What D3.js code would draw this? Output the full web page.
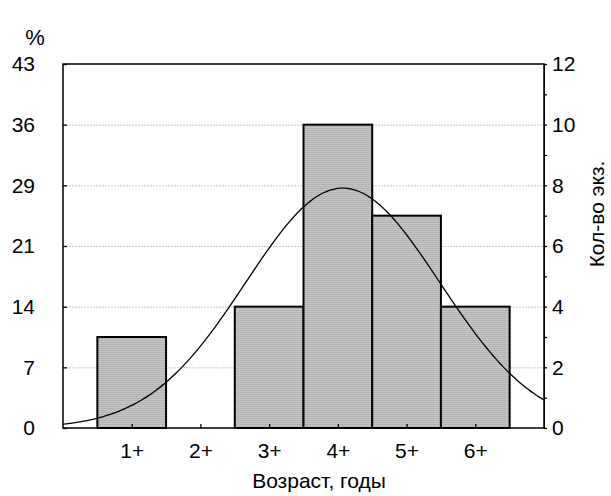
<!DOCTYPE html>
<html><head><meta charset="utf-8">
<script src="https://cdn.jsdelivr.net/npm/d3@7"></script>
<style>body{margin:0;background:#fff}svg{display:block}text{font-family:"Liberation Sans",Arial,sans-serif}</style>
</head><body><svg id="c" width="611" height="496"></svg>
<script>
const categories = ["1+","2+","3+","4+","5+","6+"];
const ages = [1,2,3,4,5,6];
const counts = [3,0,4,10,7,4];
const countTicks = [0,2,4,6,8,10,12];
const percentLabels = ["0","7","14","21","29","36","43"];
const xTitle = "Возраст, годы";
const yRightTitle = "Кол-во экз.";
const yLeftTitle = "%";

const svg = d3.select("#c");
const m = {l:63, r:544, t:64, b:428};
const x = d3.scaleLinear().domain([0,7]).range([m.l, m.r]);
const y = d3.scaleLinear().domain([0,12]).range([m.b, m.t]);
const FS = 21;

const defs = svg.append("defs");
const pat = defs.append("pattern").attr("id","hatch").attr("patternUnits","userSpaceOnUse").attr("width",4).attr("height",2);
pat.append("rect").attr("width",4).attr("height",2).attr("fill","#c4c4c4");
pat.append("rect").attr("width",4).attr("height",1).attr("fill","#b4b4b4");

// grid
svg.append("g").selectAll("line").data(countTicks.filter(d=>d>0&&d<12)).join("line")
  .attr("x1",m.l).attr("x2",m.r).attr("y1",d=>y(d)+0.5).attr("y2",d=>y(d)+0.5)
  .attr("stroke","#c8c8c8").attr("stroke-dasharray","2,1").attr("stroke-width",1);

// bars
svg.append("g").selectAll("rect").data(ages.map((a,i)=>({a, c:counts[i]})).filter(d=>d.c>0)).join("rect")
  .attr("x",d=>x(d.a-0.5)).attr("width",d=>x(d.a+0.5)-x(d.a-0.5))
  .attr("y",d=>y(d.c)).attr("height",d=>y(0)-y(d.c))
  .attr("fill","url(#hatch)").attr("stroke","#000").attr("stroke-width",2);

// normal curve fitted from data
const N = d3.sum(counts);
const mean = d3.sum(ages.map((a,i)=>a*counts[i]))/N;
const sd = Math.sqrt(d3.sum(ages.map((a,i)=>counts[i]*(a-mean)**2))/(N-1));
const xs = d3.range(0,7.001,0.05);
const line = d3.line().x(d=>x(d)).y(d=>y(N/(sd*Math.sqrt(2*Math.PI))*Math.exp(-((d-mean)**2)/(2*sd*sd)))).curve(d3.curveBasis);
svg.append("path").datum(xs).attr("d",line).attr("fill","none").attr("stroke","#000").attr("stroke-width",1.3);

// frame
svg.append("rect").attr("x",m.l).attr("y",m.t).attr("width",m.r-m.l).attr("height",m.b-m.t)
  .attr("fill","none").attr("stroke","#000").attr("stroke-width",1.5);

// axes
const yL = svg.append("g").attr("transform",`translate(${m.l},0)`)
  .call(d3.axisLeft(y).tickValues(countTicks).tickSize(-4).tickPadding(28).tickFormat((d,i)=>percentLabels[i]));
const yR = svg.append("g").attr("transform",`translate(${m.r},0)`)
  .call(d3.axisRight(y).tickValues(countTicks).tickSize(3).tickPadding(5));
svg.append("g").attr("transform",`translate(${m.r},0)`)
  .call(d3.axisLeft(y).tickValues(d3.range(1,12,2)).tickSize(-3).tickFormat(""));
const xA = svg.append("g").attr("transform",`translate(0,${m.b})`)
  .call(d3.axisBottom(x).tickValues(ages).tickSize(-4).tickPadding(15).tickFormat((d,i)=>categories[i]));
[yL,yR,xA].forEach(g=>{g.select(".domain").remove();g.selectAll("text").attr("font-size",FS).attr("fill","#000").attr("font-family","Liberation Sans, Arial, sans-serif");});
svg.selectAll(".tick line").attr("stroke","#000").attr("stroke-width",1.3);
yL.selectAll("text").attr("text-anchor","end");

svg.append("text").attr("x",319).attr("y",488).attr("text-anchor","middle").attr("font-size",FS).text(xTitle);
svg.append("text").attr("transform","translate(604,214) rotate(-90)").attr("text-anchor","middle").attr("font-size",FS).text(yRightTitle);
svg.append("text").attr("x",35).attr("y",45).attr("text-anchor","middle").attr("font-size",22).attr("font-family","Liberation Serif, Times New Roman, serif").text(yLeftTitle);
</script></body></html>
